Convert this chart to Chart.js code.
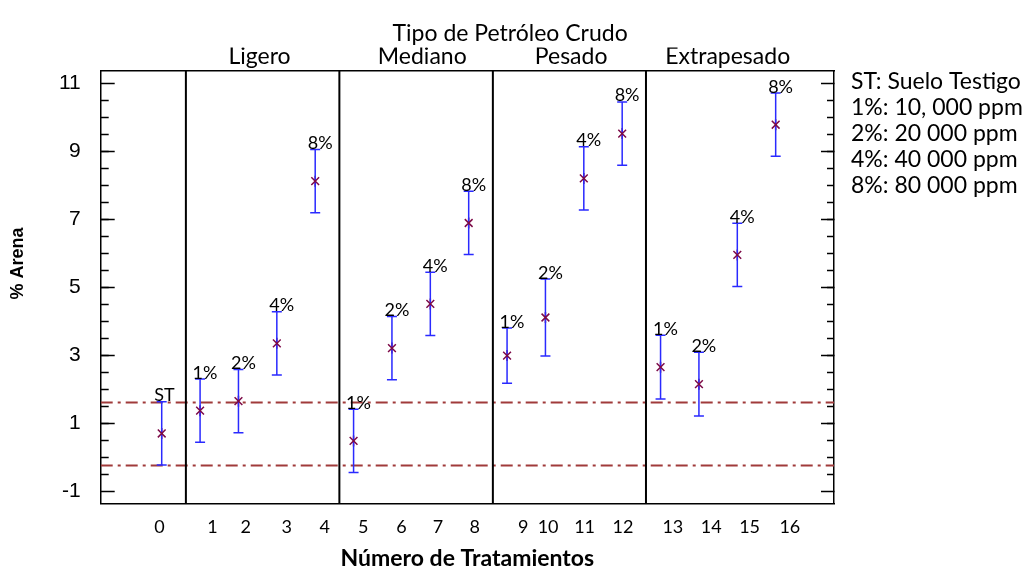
<!DOCTYPE html>
<html>
<head>
<meta charset="utf-8">
<script src="https://cdn.jsdelivr.net/npm/chart.js@4.4.1/dist/chart.umd.min.js"></script>
<style>
  html, body { margin: 0; padding: 0; background: #fff; }
  #wrap { width: 1034px; height: 578px; }
</style>
</head>
<body>
<div id="wrap"><canvas id="myChart"></canvas></div>
<script>
// data
const treatments = [0, 1, 2, 3, 4, 5, 6, 7, 8, 9, 10, 11, 12, 13, 14, 15, 16];
const means = [0.70, 1.37, 1.65, 3.35, 8.12, 0.48, 3.21, 4.51, 6.89, 2.99, 4.11, 8.20, 9.52, 2.65, 2.15, 5.95, 9.78];
const errors = [0.93, 0.93, 0.93, 0.93, 0.93, 0.93, 0.93, 0.93, 0.93, 0.81, 1.13, 0.93, 0.93, 0.94, 0.94, 0.93, 0.93];
const doseLabels = ["ST", "1%", "2%", "4%", "8%", "1%", "2%", "4%", "8%", "1%", "2%", "4%", "8%", "1%", "2%", "4%", "8%"];

const groupNames = ["Ligero", "Mediano", "Pesado", "Extrapesado"];
const groupCenters = [2.55, 6.79, 10.67, 14.75];
const groupBreaks = [0.63, 4.63, 8.63, 12.62];
const groupTitle = ["Tipo de Petróleo Crudo"];
const groupTitlePos = [9.08];

const controlLimits = [1.61, -0.24];

const xTickLabels = ["0", "1", "2", "3", "4", "5", "6", "7", "8", "9", "10", "11", "12", "13", "14", "15", "16"];
const xTickPos = [-0.06, 1.32, 2.19, 3.26, 4.25, 5.25, 6.25, 7.2, 8.16, 9.42, 10.07, 11.02, 12.02, 13.32, 14.32, 15.32, 16.37];
const yTickValues = [-1, 1, 3, 5, 7, 9, 11];

const notes = ["ST: Suelo Testigo", "1%: 10, 000 ppm", "2%: 20 000 ppm", "4%: 40 000 ppm", "8%: 80 000 ppm"];

const X_MIN = -1.59, X_MAX = 17.52;
const Y_MIN = -1.36, Y_MAX = 11.36;

const calibri = "Lato";
const arial = "'Liberation Sans', Arial";

// error bars, drawn just before the markers
const errorBars = {
  id: "errorBars",
  beforeDatasetDraw(chart, args) {
    if (args.index !== 0) return;
    const { ctx, scales } = chart;
    ctx.save();
    ctx.strokeStyle = "#2a2aff";
    ctx.lineWidth = 1.5;
    treatments.forEach((t, i) => {
      const x = scales.x.getPixelForValue(t);
      const y1 = scales.y.getPixelForValue(means[i] + errors[i]);
      const y2 = scales.y.getPixelForValue(means[i] - errors[i]);
      ctx.beginPath();
      ctx.moveTo(x, y1); ctx.lineTo(x, y2);
      ctx.moveTo(x - 5, y1); ctx.lineTo(x + 5, y1);
      ctx.moveTo(x - 5, y2); ctx.lineTo(x + 5, y2);
      ctx.stroke();
    });
    ctx.restore();
  },
};

// dose labels over each bar, note block at right, y title
const textLayer = {
  id: "textLayer",
  afterDatasetsDraw(chart) {
    const { ctx, scales, chartArea } = chart;
    ctx.save();
    ctx.fillStyle = "#000";
    ctx.font = `18px ${calibri}`;
    ctx.textAlign = "left";
    ctx.textBaseline = "alphabetic";
    treatments.forEach((t, i) => {
      const x = scales.x.getPixelForValue(t) - 7.5;
      const y = scales.y.getPixelForValue(means[i] + errors[i]) - 0.5;
      ctx.fillText(doseLabels[i], x, y);
    });

    ctx.font = `23px ${calibri}`;
    ctx.textBaseline = "middle";
    notes.forEach((line, i) => {
      ctx.fillText(line, chartArea.right + 17, chartArea.top + 11 + i * 26);
    });

    // "% Arena", sits a bit above the middle of the axis
    ctx.translate(18, scales.y.getPixelForValue(5.7));
    ctx.rotate(-Math.PI / 2);
    ctx.font = `bold 18px ${arial}`;
    ctx.textAlign = "center";
    ctx.fillText("% Arena", 0, 0);
    ctx.restore();
  },
};

const lineSet = (points, color, width, dash) => ({
  type: "scatter",
  data: points,
  showLine: true,
  borderColor: color,
  borderWidth: width,
  borderDash: dash,
  pointRadius: 0,
  order: 5,
});

const datasets = [
  {
    type: "scatter",
    data: treatments.map((t, i) => ({ x: t, y: means[i] })),
    pointStyle: "crossRot",
    pointRadius: 5.5,
    borderColor: "#7d0a47",
    borderWidth: 1.5,
    order: 0,
  },
  {
    type: "scatter",
    data: treatments.map((t, i) => ({ x: t, y: means[i] })),
    pointStyle: "line",
    rotation: 90,
    pointRadius: 5.5,
    borderColor: "#7d0a47",
    borderWidth: 1.5,
    order: 1,
  },
];
groupBreaks.forEach((b) => {
  datasets.push(lineSet([{ x: b, y: Y_MIN }, { x: b, y: Y_MAX }], "#000", 2, []));
});
controlLimits.forEach((c) => {
  datasets.push(lineSet([{ x: X_MIN, y: c }, { x: X_MAX, y: c }], "#a03a3a", 2, [12, 5, 3, 5]));
});

const ySide = (position, weight, len, major) => ({
  type: "linear",
  position: position,
  weight: weight,
  min: Y_MIN,
  max: Y_MAX,
  afterBuildTicks: (s) => {
    if (major) s.ticks = yTickValues.map((v) => ({ value: v }));
    else s.ticks = s.ticks.filter((t) => Math.abs(t.value * 2 - Math.round(t.value * 2)) < 1e-6);
  },
  afterFit: (s) => { s.width = 0; },
  ticks: { display: false, stepSize: 0.5 },
  grid: { drawOnChartArea: false, tickLength: -len, tickColor: "#000", tickWidth: 1.5 },
  border: { display: major, color: "#000", width: 1.5 },
});

new Chart(document.getElementById("myChart"), {
  type: "scatter",
  data: { datasets: datasets },
  options: {
    responsive: true,
    maintainAspectRatio: false,
    animation: false,
    layout: { padding: { left: 0, right: 200, top: 0, bottom: 0 } },
    plugins: { legend: { display: false }, tooltip: { enabled: false } },
    scales: {
      x: {
        type: "linear",
        position: "bottom",
        min: X_MIN,
        max: X_MAX,
        afterBuildTicks: (s) => { s.ticks = xTickPos.map((v) => ({ value: v })); },
        afterFit: (s) => { s.height = 74.5; },
        ticks: {
          autoSkip: false,
          maxRotation: 0,
          padding: 13,
          color: "#000",
          font: { family: calibri, size: 18 },
          callback: (v, i) => xTickLabels[i],
        },
        grid: { display: false, drawTicks: false },
        border: { display: true, color: "#000", width: 1.5 },
        title: {
          display: true,
          text: "Número de Tratamientos",
          color: "#000",
          font: { family: calibri, size: 23, weight: "bold" },
          padding: { top: 0, bottom: 6 },
        },
      },
      xGroups: {
        type: "linear",
        position: "top",
        weight: 0,
        min: X_MIN,
        max: X_MAX,
        afterBuildTicks: (s) => { s.ticks = groupCenters.map((v) => ({ value: v })); },
        afterFit: (s) => { s.height = 23.5; },
        ticks: {
          autoSkip: false,
          maxRotation: 0,
          padding: 1,
          color: "#000",
          font: { family: calibri, size: 23 },
          callback: (v, i) => groupNames[i],
        },
        grid: { display: false, drawTicks: false },
        border: { display: true, color: "#000", width: 1.5 },
      },
      xTitle: {
        type: "linear",
        position: "top",
        weight: 1,
        min: X_MIN,
        max: X_MAX,
        afterBuildTicks: (s) => { s.ticks = groupTitlePos.map((v) => ({ value: v })); },
        afterFit: (s) => { s.height = 47.5; },
        ticks: {
          autoSkip: false,
          maxRotation: 0,
          padding: 0,
          color: "#000",
          font: { family: calibri, size: 23 },
          callback: (v, i) => groupTitle[i],
        },
        grid: { display: false, drawTicks: false },
        border: { display: false },
      },
      y: {
        type: "linear",
        position: "left",
        weight: 1,
        min: Y_MIN,
        max: Y_MAX,
        afterBuildTicks: (s) => { s.ticks = yTickValues.map((v) => ({ value: v })); },
        afterFit: (s) => { s.width = 100.7; },
        ticks: { padding: 34, color: "#000", font: { family: arial, size: 21 } },
        grid: { drawOnChartArea: false, tickLength: -14, tickColor: "#000", tickWidth: 1.5 },
        border: { display: true, color: "#000", width: 1.5 },
      },
      yMinor: ySide("left", 0, 8, false),
      yRight: ySide("right", 1, 13, true),
      yRightMinor: ySide("right", 0, 7, false),
    },
  },
  plugins: [errorBars, textLayer],
});
</script>
</body>
</html>
